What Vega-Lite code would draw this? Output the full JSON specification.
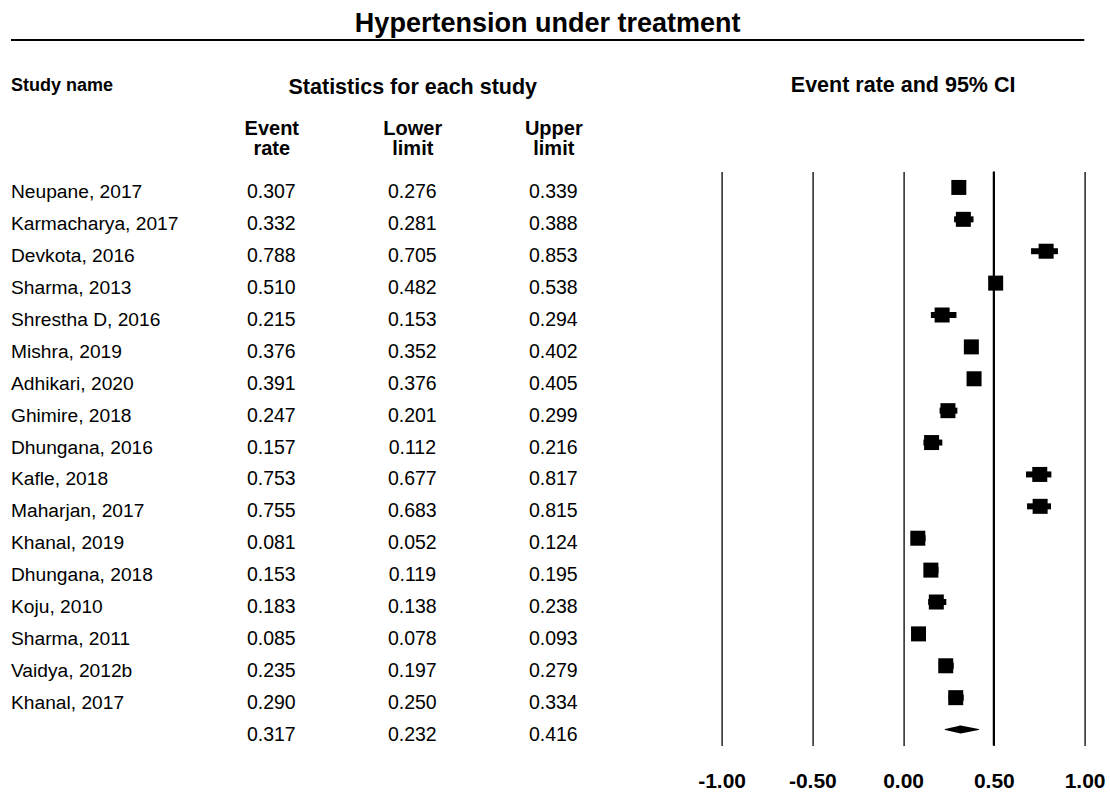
{
  "$schema": "https://vega.github.io/schema/vega-lite/v6.json",
  "padding": {"left": 10, "top": 10, "right": 5, "bottom": 5},
  "config": {
    "font": "Liberation Sans",
    "view": {"stroke": null},
    "axis": {"labelColor": "black", "titleColor": "black"},
    "title": {"color": "black"}
  },
  "datasets": {
    "studies": [
      {"study": "Neupane, 2017", "type": "study", "rate": 0.307, "lower": 0.276, "upper": 0.339},
      {"study": "Karmacharya, 2017", "type": "study", "rate": 0.332, "lower": 0.281, "upper": 0.388},
      {"study": "Devkota, 2016", "type": "study", "rate": 0.788, "lower": 0.705, "upper": 0.853},
      {"study": "Sharma, 2013", "type": "study", "rate": 0.510, "lower": 0.482, "upper": 0.538},
      {"study": "Shrestha D, 2016", "type": "study", "rate": 0.215, "lower": 0.153, "upper": 0.294},
      {"study": "Mishra, 2019", "type": "study", "rate": 0.376, "lower": 0.352, "upper": 0.402},
      {"study": "Adhikari, 2020", "type": "study", "rate": 0.391, "lower": 0.376, "upper": 0.405},
      {"study": "Ghimire, 2018", "type": "study", "rate": 0.247, "lower": 0.201, "upper": 0.299},
      {"study": "Dhungana, 2016", "type": "study", "rate": 0.157, "lower": 0.112, "upper": 0.216},
      {"study": "Kafle, 2018", "type": "study", "rate": 0.753, "lower": 0.677, "upper": 0.817},
      {"study": "Maharjan, 2017", "type": "study", "rate": 0.755, "lower": 0.683, "upper": 0.815},
      {"study": "Khanal, 2019", "type": "study", "rate": 0.081, "lower": 0.052, "upper": 0.124},
      {"study": "Dhungana, 2018", "type": "study", "rate": 0.153, "lower": 0.119, "upper": 0.195},
      {"study": "Koju, 2010", "type": "study", "rate": 0.183, "lower": 0.138, "upper": 0.238},
      {"study": "Sharma, 2011", "type": "study", "rate": 0.085, "lower": 0.078, "upper": 0.093},
      {"study": "Vaidya, 2012b", "type": "study", "rate": 0.235, "lower": 0.197, "upper": 0.279},
      {"study": "Khanal, 2017", "type": "study", "rate": 0.290, "lower": 0.250, "upper": 0.334},
      {"study": "Summary", "type": "summary", "rate": 0.317, "lower": 0.232, "upper": 0.416}
    ]
  },
  "bounds": "flush",
  "spacing": 130.5,
  "vconcat": [
    {
      "width": 1073.3,
      "height": 1,
      "data": {"values": [{}]},
      "title": {"text": "Hypertension under treatment", "fontSize": 27, "fontWeight": "bold", "anchor": "middle", "baseline": "alphabetic", "offset": -20},
      "mark": {"type": "rule", "color": "black", "strokeWidth": 2},
      "encoding": {
        "y": {"datum": 1, "type": "quantitative", "scale": {"domain": [0, 1]}, "axis": null}
      }
    },
    {
      "bounds": "flush",
      "spacing": 97.8,
      "hconcat": [
        {
          "width": 91.7,
          "height": 574,
          "data": {"name": "studies"},
          "title": {"text": "Study name", "anchor": "start", "fontSize": 18, "fontWeight": "bold", "baseline": "alphabetic", "offset": 62.5},
          "mark": {"type": "text", "align": "left", "baseline": "middle", "fontSize": 19.2, "dy": 5, "color": "black"},
          "encoding": {
            "x": {"datum": 0, "type": "quantitative", "scale": {"domain": [0, 1]}, "axis": null},
            "y": {"field": "study", "type": "nominal", "sort": null, "axis": null},
            "text": {"field": "study", "type": "nominal", "condition": {"test": "datum.type === 'summary'", "value": ""}}
          }
        },
        {
          "width": 423,
          "height": 574,
          "data": {"name": "studies"},
          "transform": [{"fold": ["rate", "lower", "upper"], "as": ["col", "val"]}],
          "mark": {"type": "text", "baseline": "middle", "fontSize": 19.5, "dy": 5, "color": "black"},
          "encoding": {
            "x": {
              "field": "col", "type": "nominal", "sort": ["rate", "lower", "upper"],
              "scale": {"type": "point", "padding": 0.5},
              "axis": {
                "orient": "top", "title": "Statistics for each study",
                "titleFontSize": 21.5, "titleFontWeight": "bold", "titlePadding": 20,
                "labelFontSize": 20, "labelFontWeight": "bold", "labelLineHeight": 20,
                "labelPadding": 33, "labelAngle": 0, "ticks": false, "domain": false,
                "labelExpr": "datum.value === 'rate' ? ['Event', 'rate'] : datum.value === 'lower' ? ['Lower', 'limit'] : ['Upper', 'limit']"
              }
            },
            "y": {"field": "study", "type": "nominal", "sort": null, "axis": null},
            "text": {"field": "val", "type": "quantitative", "format": ".3f"}
          }
        },
        {
          "width": 363,
          "height": 574,
          "data": {"name": "studies"},
          "title": {"text": "Event rate and 95% CI", "anchor": "middle", "fontSize": 21.5, "fontWeight": "bold", "baseline": "alphabetic", "offset": 57},
          "layer": [
            {
              "mark": {"type": "point", "shape": "square", "filled": true, "color": "black", "opacity": 1},
              "encoding": {
                "x": {
                  "field": "rate", "type": "quantitative", "title": null,
                  "scale": {"domain": [-1, 1], "nice": false, "zero": false},
                  "axis": {
                    "values": [-1, -0.5, 0, 0.5, 1], "format": ".2f", "grid": true,
                    "labelExpr": "replace(datum.label, '\u2212', '-')",
                    "gridColor": "black", "gridWidth": 1.3, "gridOpacity": 1,
                    "ticks": false, "domain": false, "labelFontSize": 21, "labelFontWeight": "bold",
                    "labelPadding": 25, "labelFlush": false, "labelOverlap": false, "labelBound": false
                  }
                },
                "y": {"field": "study", "type": "nominal", "sort": null, "axis": null},
                "size": {"condition": {"test": "datum.type === 'summary'", "value": 0}, "value": 225}
              }
            },
            {
              "transform": [{"filter": "datum.type === 'study'"}],
              "mark": {"type": "rule", "color": "black", "strokeWidth": 6},
              "encoding": {
                "x": {"field": "lower", "type": "quantitative", "title": null},
                "x2": {"field": "upper"},
                "y": {"field": "study", "type": "nominal", "sort": null, "axis": null}
              }
            },
            {
              "transform": [
                {"filter": "datum.type === 'summary'"},
                {"fold": ["lower", "rate", "upper"], "as": ["k", "v"]}
              ],
              "mark": {"type": "trail", "color": "black"},
              "encoding": {
                "x": {"field": "v", "type": "quantitative", "title": null},
                "y": {"field": "study", "type": "nominal", "sort": null, "axis": null},
                "size": {"condition": {"test": "datum.k === 'rate'", "value": 8}, "value": 0}
              }
            },
            {
              "data": {"values": [{}]},
              "mark": {"type": "rule", "color": "black", "strokeWidth": 2.2},
              "encoding": {
                "x": {"datum": 0.5, "type": "quantitative", "title": null}
              }
            }
          ]
        }
      ]
    }
  ]
}
